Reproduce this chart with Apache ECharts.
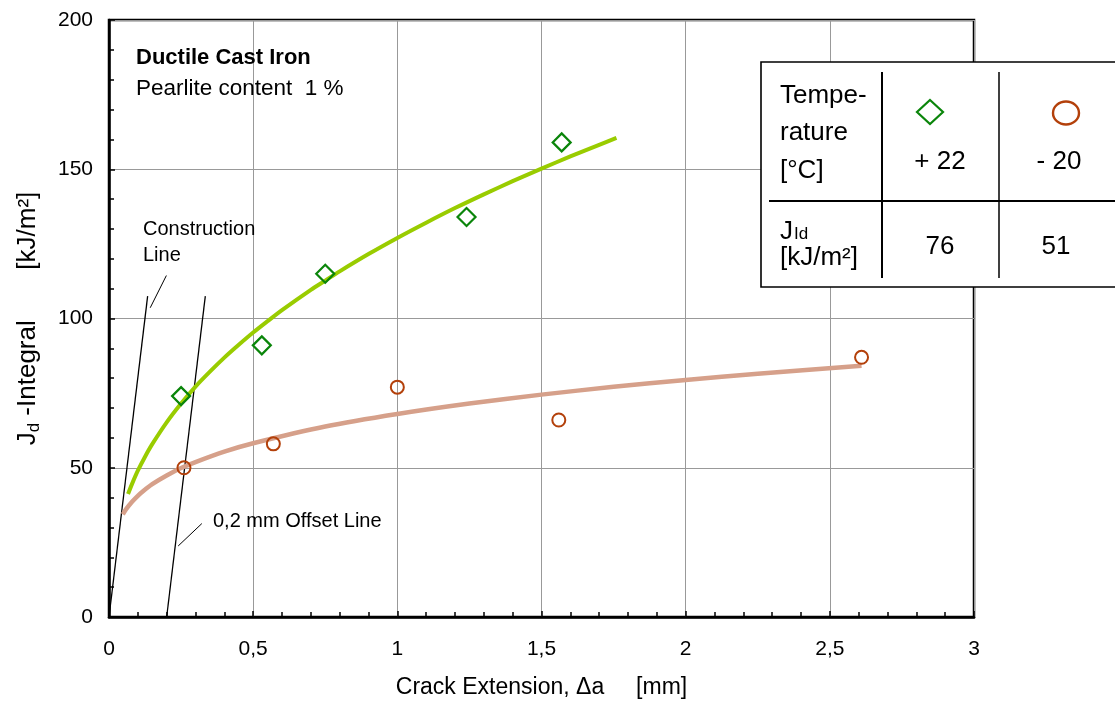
<!DOCTYPE html>
<html>
<head>
<meta charset="utf-8">
<title>J-Integral vs Crack Extension</title>
<script src="https://cdn.jsdelivr.net/npm/echarts@6/dist/echarts.min.js"></script>
<style>
  html, body { margin: 0; padding: 0; background: #fff; }
  #main { width: 1115px; height: 704px; }
</style>
</head>
<body>
<div id="main"></div>
<script>
// measured points, +22 °C (diamonds)
const plus22X = [0.25, 0.53, 0.75, 1.24, 1.57];
const plus22Y = [74, 91, 115, 134, 159];
// measured points, -20 °C (circles)
const minus20X = [0.26, 0.57, 1.0, 1.56, 2.61];
const minus20Y = [50, 58, 77, 66, 87];

// R-curves
const curve22X = [0.066, 0.08, 0.1, 0.125, 0.15, 0.2, 0.25, 0.3, 0.35, 0.4, 0.45, 0.5, 0.55, 0.6, 0.7, 0.75, 0.8, 0.9, 1.0, 1.1, 1.2, 1.3, 1.4, 1.5, 1.6, 1.7, 1.76];
const curve22Y = [41.2, 44.6, 49, 53.7, 57.9, 65.2, 71.5, 77.2, 82.2, 86.9, 91.2, 95.3, 99.1, 102.8, 109.6, 112.7, 115.8, 121.6, 127, 132.1, 137, 141.6, 146, 150.2, 154.3, 158.2, 160.5];
const curveM20X = [0.048, 0.06, 0.08, 0.1, 0.12, 0.15, 0.2, 0.25, 0.3, 0.4, 0.5, 0.75, 1.0, 1.25, 1.5, 1.75, 2.0, 2.25, 2.61];
const curveM20Y = [34.4, 36.2, 38.6, 40.6, 42.3, 44.5, 47.4, 49.9, 51.9, 55.4, 58.2, 63.8, 68, 71.5, 74.5, 77.1, 79.4, 81.5, 84.2];

// construction line and 0,2 mm offset line
const constructionX = [0, 0.134];
const constructionY = [0, 107.5];
const offsetX = [0.2, 0.334];
const offsetY = [0, 107.5];
// little pointer lines to the labels
const constrPointerX = [0.199, 0.143];
const constrPointerY = [114.4, 103.6];
const offsetPointerX = [0.322, 0.24];
const offsetPointerY = [31.3, 23.8];

// table values
const tempLabels = ['+ 22', '- 20'];
const jIdValues = ['76', '51'];

const FONT = "'Liberation Sans', Arial, sans-serif";
const pairs = (xs, ys) => xs.map((x, i) => [x, ys[i]]);

const chartDom = document.getElementById('main');
const myChart = echarts.init(chartDom);

const thinLine = (xs, ys, w) => ({
  type: 'line',
  data: pairs(xs, ys),
  showSymbol: false,
  silent: true,
  lineStyle: { color: '#000', width: w },
  z: 3
});

const option = {
  animation: false,
  grid: {
    left: 109, right: 141, top: 20, bottom: 87,
    show: true, borderColor: '#000', borderWidth: 2.5
  },
  xAxis: {
    type: 'value',
    min: 0, max: 3, interval: 0.5,
    name: 'Crack Extension, \u0394a     [mm]',
    nameLocation: 'middle',
    nameGap: 59,
    nameTextStyle: { fontSize: 23, color: '#000', fontFamily: FONT },
    axisLine: { lineStyle: { color: '#000', width: 2.5 } },
    axisTick: { inside: true, length: 6, lineStyle: { color: '#000', width: 1.5 } },
    minorTick: { show: true, splitNumber: 5, length: 5, lineStyle: { color: '#000', width: 1.5 } },
    axisLabel: {
      fontSize: 21, color: '#000', fontFamily: FONT, margin: 22,
      formatter: v => String(v).replace('.', ',')
    },
    splitLine: { show: true, lineStyle: { color: '#999', width: 1 } }
  },
  yAxis: {
    type: 'value',
    min: 0, max: 200, interval: 50,
    name: '{a|J}{b|d}{a| -Integral       [kJ/m\u00b2]}',
    nameLocation: 'middle',
    nameGap: 66,
    nameTextStyle: {
      fontFamily: FONT, color: '#000',
      rich: {
        a: { fontSize: 26, fontFamily: FONT, color: '#000', lineHeight: 30 },
        b: { fontSize: 17, fontFamily: FONT, color: '#000', lineHeight: 30, verticalAlign: 'bottom' }
      }
    },
    axisLine: { show: true, lineStyle: { color: '#000', width: 2.5 } },
    axisTick: { inside: true, length: 6, lineStyle: { color: '#000', width: 1.5 } },
    minorTick: { show: true, splitNumber: 5, length: 5, lineStyle: { color: '#000', width: 1.5 } },
    axisLabel: { fontSize: 21, color: '#000', fontFamily: FONT, margin: 16 },
    splitLine: { show: true, lineStyle: { color: '#999', width: 1 } }
  },
  series: [
    thinLine(constructionX, constructionY, 1.3),
    thinLine(offsetX, offsetY, 1.3),
    thinLine(constrPointerX, constrPointerY, 1),
    thinLine(offsetPointerX, offsetPointerY, 1),
    {
      name: 'fit -20',
      type: 'line',
      data: pairs(curveM20X, curveM20Y),
      smooth: 0.3,
      showSymbol: false,
      lineStyle: { color: '#d6a08a', width: 4.5 },
      z: 4
    },
    {
      name: 'fit +22',
      type: 'line',
      data: pairs(curve22X, curve22Y),
      smooth: 0.3,
      showSymbol: false,
      lineStyle: { color: '#99cc00', width: 4 },
      z: 5
    },
    {
      name: '+22',
      type: 'scatter',
      data: pairs(plus22X, plus22Y),
      symbol: 'diamond',
      symbolSize: [18, 18],
      itemStyle: { color: 'rgba(255,255,255,0)', borderColor: '#0a850a', borderWidth: 2.2, opacity: 1 },
      z: 6
    },
    {
      name: '-20',
      type: 'scatter',
      data: pairs(minus20X, minus20Y),
      symbol: 'circle',
      symbolSize: 13,
      itemStyle: { color: 'rgba(255,255,255,0)', borderColor: '#b3400a', borderWidth: 2, opacity: 1 },
      z: 6
    }
  ],
  graphic: [
    { type: 'text', left: 136, top: 47, z: 50,
      style: { text: 'Ductile Cast Iron', font: 'bold 22px ' + FONT, fill: '#000' } },
    { type: 'text', left: 136, top: 77, z: 50,
      style: { text: 'Pearlite content  1 %', font: '22.5px ' + FONT, fill: '#000' } },
    { type: 'text', left: 143, top: 219, z: 50,
      style: { text: 'Construction', font: '20px ' + FONT, fill: '#000' } },
    { type: 'text', left: 143, top: 245, z: 50,
      style: { text: 'Line', font: '20px ' + FONT, fill: '#000' } },
    { type: 'text', left: 213, top: 511, z: 50,
      style: { text: '0,2 mm Offset Line', font: '20px ' + FONT, fill: '#000' } },

    // table box
    { type: 'rect', z: 100, shape: { x: 761, y: 62, width: 420, height: 225 },
      style: { fill: '#fff', stroke: '#000', lineWidth: 1.6 } },
    { type: 'line', z: 101, shape: { x1: 882, y1: 72, x2: 882, y2: 278 },
      style: { stroke: '#000', lineWidth: 2 } },
    { type: 'line', z: 101, shape: { x1: 999, y1: 72, x2: 999, y2: 278 },
      style: { stroke: '#000', lineWidth: 1.5 } },
    { type: 'line', z: 101, shape: { x1: 769, y1: 201, x2: 1115, y2: 201 },
      style: { stroke: '#000', lineWidth: 2 } },
    { type: 'text', z: 102, x: 780, y: 96,
      style: { text: 'Tempe-', font: '26px ' + FONT, fill: '#000', textVerticalAlign: 'middle' } },
    { type: 'text', z: 102, x: 780, y: 133,
      style: { text: 'rature', font: '26px ' + FONT, fill: '#000', textVerticalAlign: 'middle' } },
    { type: 'text', z: 102, x: 780, y: 171,
      style: { text: '[\u00b0C]', font: '26px ' + FONT, fill: '#000', textVerticalAlign: 'middle' } },
    { type: 'polygon', z: 102,
      shape: { points: [[930, 100], [943, 112], [930, 124], [917, 112]] },
      style: { fill: 'none', stroke: '#0a850a', lineWidth: 2.2 } },
    { type: 'ellipse', z: 102, shape: { cx: 1066, cy: 113, rx: 13, ry: 11.5 },
      style: { fill: 'none', stroke: '#b3400a', lineWidth: 2.4 } },
    { type: 'text', z: 102, x: 940, y: 162,
      style: { text: tempLabels[0], font: '26px ' + FONT, fill: '#000', textAlign: 'center', textVerticalAlign: 'middle' } },
    { type: 'text', z: 102, x: 1059, y: 162,
      style: { text: tempLabels[1], font: '26px ' + FONT, fill: '#000', textAlign: 'center', textVerticalAlign: 'middle' } },
    // J with small "Id", both sitting on the same baseline
    { type: 'text', z: 102, x: 780, y: 245,
      style: { text: 'J', font: '26px ' + FONT, fill: '#000', textVerticalAlign: 'bottom' } },
    { type: 'text', z: 102, x: 794, y: 243,
      style: { text: 'Id', font: '17px ' + FONT, fill: '#000', textVerticalAlign: 'bottom' } },
    { type: 'text', z: 102, x: 780, y: 258,
      style: { text: '[kJ/m\u00b2]', font: '26px ' + FONT, fill: '#000', textVerticalAlign: 'middle' } },
    { type: 'text', z: 102, x: 940, y: 247,
      style: { text: jIdValues[0], font: '26px ' + FONT, fill: '#000', textAlign: 'center', textVerticalAlign: 'middle' } },
    { type: 'text', z: 102, x: 1056, y: 247,
      style: { text: jIdValues[1], font: '26px ' + FONT, fill: '#000', textAlign: 'center', textVerticalAlign: 'middle' } }
  ]
};

option && myChart.setOption(option);
</script>
</body>
</html>
